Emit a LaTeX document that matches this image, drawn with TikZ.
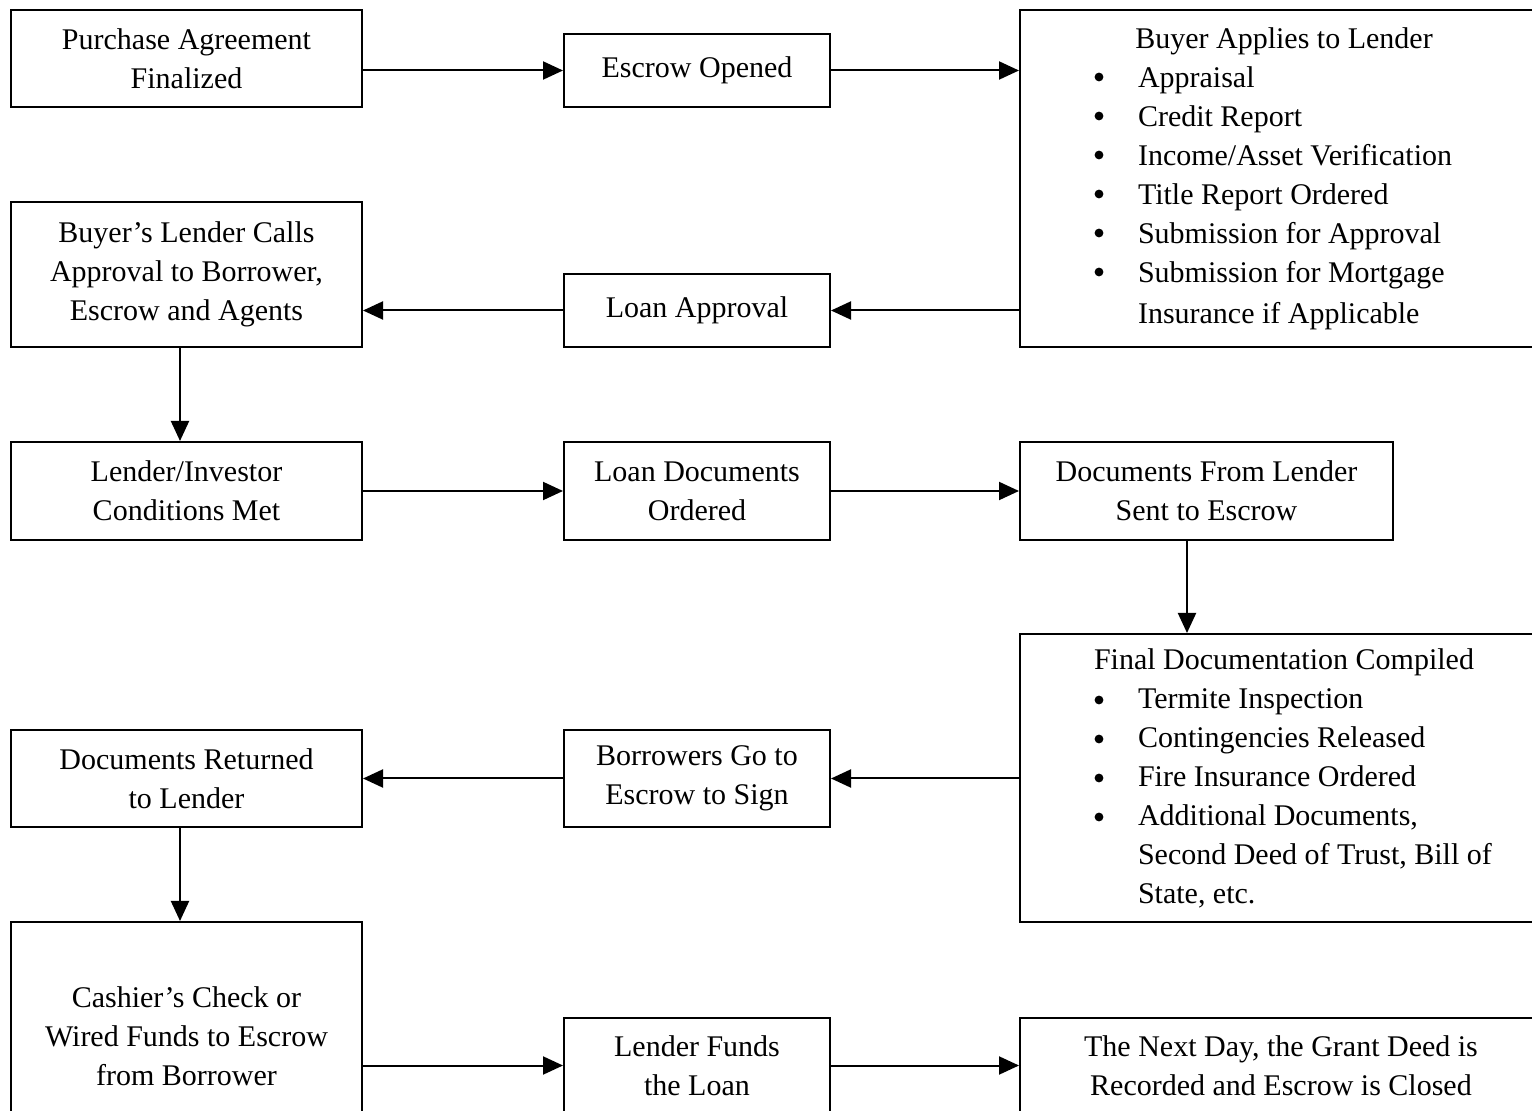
\documentclass[tikz,border=0pt]{standalone}
\usepackage{fontspec}
\setmainfont{Liberation Serif}
\usetikzlibrary{arrows.meta}
\newcommand\bcont{\hspace*{59pt}}
\begin{document}
\begin{tikzpicture}[x=0.5pt,y=-0.5pt,
  box/.style={draw, line width=1pt, align=center, inner sep=0pt,
              font=\fontsize{15}{19.5}\selectfont},
  listbox/.style={box, align=flush left, text width=264pt},
  arr/.style={line width=1pt, -{Triangle[length=10pt,width=9pt]}},
  bullet/.style={fill=black},
]
\useasboundingbox (0,0) rectangle (1532,1111);
\clip (0,0) rectangle (1532,1111);

% row 1
\node[box, minimum width=175.5pt, minimum height=48.5pt] (A) at (186.5,58.5) {Purchase Agreement\\Finalized};
\node[box, minimum width=133pt, minimum height=36.5pt] (B) at (697,70.5) {Escrow Opened};
\node[listbox, minimum width=264pt, minimum height=168.5pt] (C) at (1284,178.5)
 {\makebox[264pt]{Buyer Applies to Lender}\\
  \bcont Appraisal\\
  \bcont Credit Report\\
  \bcont Income/Asset Verification\\
  \bcont Title Report Ordered\\
  \bcont Submission for Approval\\
  \bcont Submission for Mortgage\\[1pt]
  \bcont Insurance if Applicable};
\foreach \yy in {77,116,155,194,233,272}
  \fill[bullet] ([shift={(80,0)}]C.west |- 0,\yy) circle (2.2pt);

% row 2
\node[box, minimum width=175.5pt, minimum height=72.5pt] (D) at (186.5,274.5) {Buyer’s Lender Calls\\Approval to Borrower,\\Escrow and Agents};
\node[box, minimum width=133pt, minimum height=36.5pt] (E) at (697,310.5) {Loan Approval};

% row 3
\node[box, minimum width=175.5pt, minimum height=49pt] (F) at (186.5,491) {Lender/Investor\\Conditions Met};
\node[box, minimum width=133pt, minimum height=49pt] (G) at (697,491) {Loan Documents\\Ordered};
\node[box, minimum width=186.5pt, minimum height=49pt] (H) at (1206.5,491) {Documents From Lender\\Sent to Escrow};

% row 4
\node[listbox, minimum width=264pt, minimum height=144pt] (I) at (1284,778)
 {\makebox[264pt]{Final Documentation Compiled}\\
  \bcont Termite Inspection\\
  \bcont Contingencies Released\\
  \bcont Fire Insurance Ordered\\
  \bcont Additional Documents,\\
  \bcont Second Deed of Trust, Bill of\\
  \bcont State, etc.};
\foreach \yy in {700,739,778,817}
  \fill[bullet] ([shift={(80,0)}]I.west |- 0,\yy) circle (2.2pt);
\node[box, minimum width=133pt, minimum height=48.5pt] (J) at (697,778.5) {Borrowers Go to\\Escrow to Sign};
\node[box, minimum width=175.5pt, minimum height=48.5pt] (K) at (186.5,778.5) {Documents Returned\\to Lender};

% row 5
\node[box, minimum width=175.5pt, minimum height=114pt] (L) at (186.5,1036) {Cashier’s Check or\\Wired Funds to Escrow\\from Borrower};
\node[box, minimum width=133pt, minimum height=47.5pt] (M) at (697,1065.5) {Lender Funds\\the Loan};
\node[box, minimum width=261pt, minimum height=47.5pt] (N) at (1281,1065.5) {The Next Day, the Grant Deed is\\Recorded and Escrow is Closed};

% connectors
\draw[arr] (A.east |- B.west) -- (B.west);
\draw[arr] (B.east) -- (B.east -| C.west);
\draw[arr] (C.west |- E.east) -- (E.east);
\draw[arr] (E.west) -- (E.west -| D.east);
\draw[arr] ([xshift=-3.25pt]D.south) -- ([xshift=-3.25pt]D.south |- F.north);
\draw[arr] (F.east) -- (G.west);
\draw[arr] (G.east) -- (H.west);
\draw[arr] ([xshift=-9.75pt]H.south) -- ([xshift=-9.75pt]H.south |- I.north);
\draw[arr] (I.west |- J.east) -- (J.east);
\draw[arr] (J.west) -- (J.west -| K.east);
\draw[arr] ([xshift=-3.25pt]K.south) -- ([xshift=-3.25pt]K.south |- L.north);
\draw[arr] (L.east |- M.west) -- (M.west);
\draw[arr] (M.east) -- (M.east -| N.west);
\end{tikzpicture}
\end{document}
